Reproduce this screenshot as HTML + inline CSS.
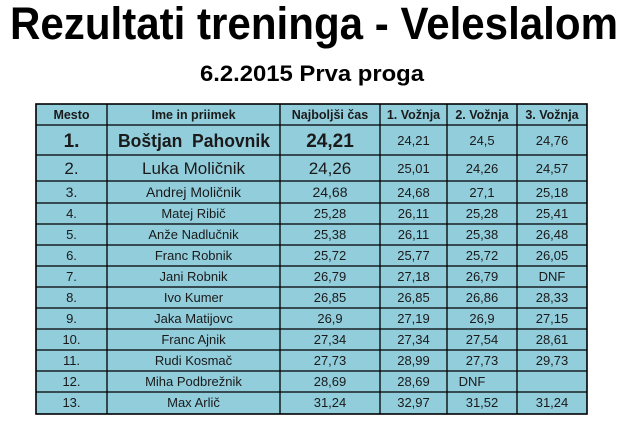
<!DOCTYPE html>
<html><head><meta charset="utf-8"><style>
html,body{margin:0;padding:0;background:#fff;}
svg{display:block;}
text{font-family:"Liberation Sans",sans-serif;fill:#1a1a1a;text-anchor:middle;}
</style></head><body>
<svg width="629" height="425" viewBox="0 0 629 425" xmlns="http://www.w3.org/2000/svg">
<rect width="629" height="425" fill="#fff"/>
<text x="314" y="39" font-size="45" font-weight="bold" textLength="608" lengthAdjust="spacingAndGlyphs" style="fill:#000">Rezultati treninga - Veleslalom</text>
<text x="312" y="81" font-size="22" font-weight="bold" textLength="224" lengthAdjust="spacingAndGlyphs" style="fill:#000">6.2.2015 Prva proga</text>
<rect x="36" y="104" width="551" height="310" fill="#92CDDC"/>
<g stroke="#000" stroke-width="1.3">
<rect x="36" y="104" width="551" height="310" fill="none" stroke-width="1.6"/>
<line x1="107" y1="104" x2="107" y2="414"/><line x1="280" y1="104" x2="280" y2="414"/>
<line x1="380" y1="104" x2="380" y2="414"/><line x1="447" y1="104" x2="447" y2="414"/>
<line x1="517" y1="104" x2="517" y2="414"/>
<line x1="36" y1="125" x2="587" y2="125"/><line x1="36" y1="155" x2="587" y2="155"/>
<line x1="36" y1="181" x2="587" y2="181"/><line x1="36" y1="203" x2="587" y2="203"/>
<line x1="36" y1="224" x2="587" y2="224"/><line x1="36" y1="245" x2="587" y2="245"/>
<line x1="36" y1="266" x2="587" y2="266"/><line x1="36" y1="287" x2="587" y2="287"/>
<line x1="36" y1="308" x2="587" y2="308"/><line x1="36" y1="329" x2="587" y2="329"/>
<line x1="36" y1="350" x2="587" y2="350"/><line x1="36" y1="371" x2="587" y2="371"/>
<line x1="36" y1="392" x2="587" y2="392"/>
</g>
<g font-size="12.5" font-weight="bold">
<text x="71.5" y="119">Mesto</text><text x="193.5" y="119">Ime in priimek</text><text x="330" y="119">Najboljši čas</text>
<text x="413.5" y="119">1. Vožnja</text><text x="482" y="119">2. Vožnja</text><text x="552" y="119">3. Vožnja</text>
</g>
<g font-size="19" font-weight="bold">
<text x="71.5" y="147">1.</text><text x="194" y="147" font-size="18" textLength="152" lengthAdjust="spacingAndGlyphs">Boštjan&#160; Pahovnik</text><text x="330" y="147">24,21</text>
</g>
<g font-size="17">
<text x="71.5" y="174">2.</text><text x="193.5" y="174">Luka Moličnik</text><text x="330" y="174">24,26</text>
</g>
<g font-size="14">
<text x="71.5" y="197">3.</text><text x="193.5" y="197">Andrej Moličnik</text><text x="330" y="197">24,68</text>
</g>
<g font-size="13">
<text x="413.5" y="145">24,21</text><text x="482" y="145">24,5</text><text x="552" y="145">24,76</text>
<text x="413.5" y="173">25,01</text><text x="482" y="173">24,26</text><text x="552" y="173">24,57</text>
<text x="413.5" y="197">24,68</text><text x="482" y="197">27,1</text><text x="552" y="197">25,18</text>
<text x="71.5" y="218">4.</text><text x="193.5" y="218">Matej Ribič</text><text x="330" y="218">25,28</text><text x="413.5" y="218">26,11</text><text x="482" y="218">25,28</text><text x="552" y="218">25,41</text>
<text x="71.5" y="239">5.</text><text x="193.5" y="239">Anže Nadlučnik</text><text x="330" y="239">25,38</text><text x="413.5" y="239">26,11</text><text x="482" y="239">25,38</text><text x="552" y="239">26,48</text>
<text x="71.5" y="260">6.</text><text x="193.5" y="260">Franc Robnik</text><text x="330" y="260">25,72</text><text x="413.5" y="260">25,77</text><text x="482" y="260">25,72</text><text x="552" y="260">26,05</text>
<text x="71.5" y="281">7.</text><text x="193.5" y="281">Jani Robnik</text><text x="330" y="281">26,79</text><text x="413.5" y="281">27,18</text><text x="482" y="281">26,79</text><text x="552" y="281">DNF</text>
<text x="71.5" y="302">8.</text><text x="193.5" y="302">Ivo Kumer</text><text x="330" y="302">26,85</text><text x="413.5" y="302">26,85</text><text x="482" y="302">26,86</text><text x="552" y="302">28,33</text>
<text x="71.5" y="323">9.</text><text x="193.5" y="323">Jaka Matijovc</text><text x="330" y="323">26,9</text><text x="413.5" y="323">27,19</text><text x="482" y="323">26,9</text><text x="552" y="323">27,15</text>
<text x="71.5" y="344">10.</text><text x="193.5" y="344">Franc Ajnik</text><text x="330" y="344">27,34</text><text x="413.5" y="344">27,34</text><text x="482" y="344">27,54</text><text x="552" y="344">28,61</text>
<text x="71.5" y="365">11.</text><text x="193.5" y="365">Rudi Kosmač</text><text x="330" y="365">27,73</text><text x="413.5" y="365">28,99</text><text x="482" y="365">27,73</text><text x="552" y="365">29,73</text>
<text x="71.5" y="386">12.</text><text x="193.5" y="386">Miha Podbrežnik</text><text x="330" y="386">28,69</text><text x="413.5" y="386">28,69</text><text x="472" y="386">DNF</text>
<text x="71.5" y="407">13.</text><text x="193.5" y="407">Max Arlič</text><text x="330" y="407">31,24</text><text x="413.5" y="407">32,97</text><text x="482" y="407">31,52</text><text x="552" y="407">31,24</text>
</g>
</svg>
</body></html>
